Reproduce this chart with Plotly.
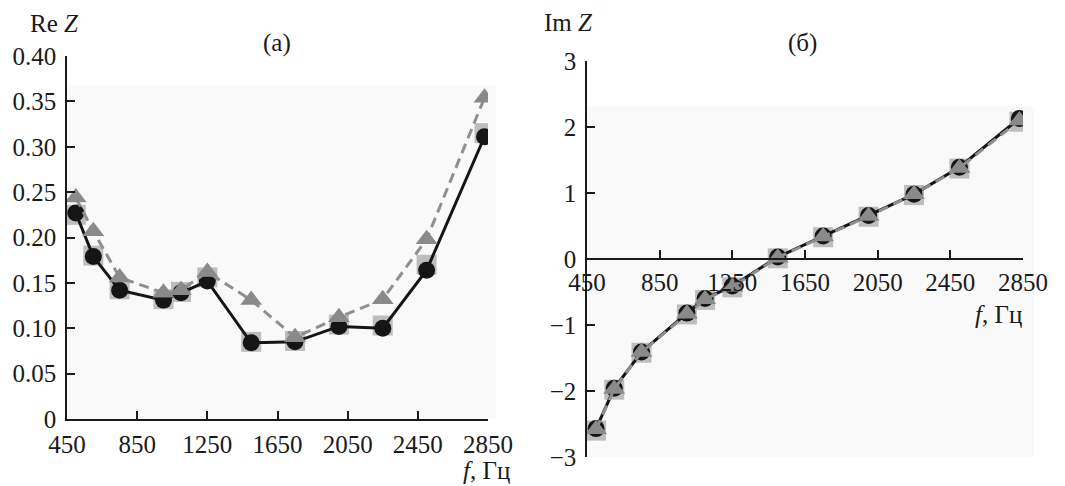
import plotly.graph_objects as go

# ---- data ----
freq = [500, 600, 750, 1000, 1100, 1250, 1500, 1750, 2000, 2250, 2500, 2830]

re_circle = [0.227, 0.179, 0.142, 0.131, 0.139, 0.152, 0.084, 0.085, 0.102, 0.100, 0.164, 0.311]
re_triangle = [0.244, 0.207, 0.156, 0.139, 0.142, 0.162, 0.131, 0.090, 0.112, 0.132, 0.198, 0.354]
re_square = [0.225, 0.180, 0.143, 0.132, 0.140, 0.156, 0.085, 0.086, 0.104, 0.103, 0.170, 0.315]

im_circle = [-2.57, -1.96, -1.41, -0.82, -0.60, -0.41, 0.03, 0.35, 0.66, 0.98, 1.39, 2.13]
im_triangle = [-2.58, -1.97, -1.41, -0.83, -0.61, -0.42, 0.02, 0.34, 0.65, 0.98, 1.38, 2.10]
im_square = [-2.60, -1.98, -1.42, -0.84, -0.62, -0.43, 0.01, 0.33, 0.64, 0.97, 1.37, 2.08]

x_ticks = [450, 850, 1250, 1650, 2050, 2450, 2850]
re_ticks = [0, 0.05, 0.10, 0.15, 0.20, 0.25, 0.30, 0.35, 0.40]
re_ticktext = ["0", "0.05", "0.10", "0.15", "0.20", "0.25", "0.30", "0.35", "0.40"]
im_ticks = [-3, -2, -1, 0, 1, 2, 3]
im_ticktext = ["\u22123", "\u22122", "\u22121", "0", "1", "2", "3"]

OFF = 8  # default page body margin
W, H = 1065 - OFF, 486 - OFF
FONT = "Liberation Serif"
FS = 25

fig = go.Figure()

def add_series(xa, ya, sq, ci, tr):
    fig.add_trace(go.Scatter(x=freq, y=sq, mode="markers", xaxis=xa, yaxis=ya,
                             marker=dict(symbol="square", size=20, color="#bdbdbd"),
                             showlegend=False))
    fig.add_trace(go.Scatter(x=freq, y=ci, mode="lines+markers", xaxis=xa, yaxis=ya,
                             line=dict(color="#151515", width=3),
                             marker=dict(symbol="circle", size=17, color="#151515"),
                             showlegend=False))
    fig.add_trace(go.Scatter(x=freq, y=tr, mode="lines+markers", xaxis=xa, yaxis=ya,
                             line=dict(color="#8f8f8f", width=3, dash="10px,6px"),
                             marker=dict(symbol="triangle-up", size=19, color="#8a8a8a"),
                             showlegend=False))

add_series("x", "y", re_square, re_circle, re_triangle)
add_series("x2", "y2", im_square, im_circle, im_triangle)

# window pixel -> paper helpers
def px(x):
    return (x - OFF) / W

def py(y):
    return 1 - (y - OFF) / H

ax_common = dict(showgrid=False, zeroline=False, showline=True, linecolor="#1a1a1a",
                 linewidth=1.5, ticks="inside", ticklen=8, tickwidth=1.5, tickcolor="#1a1a1a",
                 automargin=False,
                 tickfont=dict(family=FONT, size=FS, color="#1a1a1a"))

l_dom_y = [py(419), py(56)]
r_dom_y = [py(457), py(61)]

fig.update_layout(
    width=W, height=H,
    margin=dict(l=0, r=0, t=0, b=0, autoexpand=False),
    paper_bgcolor="white", plot_bgcolor="rgba(0,0,0,0)",
    xaxis=dict(domain=[px(67), px(488)], range=[450, 2850], tickvals=x_ticks,
               anchor="y", ticklabelstandoff=2, **ax_common),
    yaxis=dict(domain=l_dom_y, range=[0, 0.40], tickvals=re_ticks, ticktext=re_ticktext,
               anchor="x", ticklabelstandoff=4, **ax_common),
    xaxis2=dict(domain=[px(587), px(1023)], range=[450, 2850], tickvals=x_ticks,
                anchor="free", position=(r_dom_y[0] + r_dom_y[1]) / 2,
                ticklabelstandoff=1, **ax_common),
    yaxis2=dict(domain=r_dom_y, range=[-3, 3], tickvals=im_ticks, ticktext=im_ticktext,
                anchor="x2", ticklabelstandoff=4, **ax_common),
)

# faint background panels
fig.add_shape(type="rect", xref="x domain", yref="y domain", x0=0, x1=1.018, y0=0, y1=0.92,
              fillcolor="#f9f9f9", line=dict(width=0), layer="below")
fig.add_shape(type="rect", xref="x2 domain", yref="y2 domain", x0=0, x1=1.025, y0=0, y1=0.885,
              fillcolor="#f9f9f9", line=dict(width=0), layer="below")

ann_font = dict(family=FONT, size=FS, color="#1a1a1a")
annotations = [
    dict(text="Re <i>Z</i>", x=px(54), y=py(24)),
    dict(text="(а)", x=px(277), y=py(43)),
    dict(text="<i>f</i>, Гц", x=px(486), y=py(470)),
    dict(text="Im <i>Z</i>", x=px(568), y=py(22)),
    dict(text="(б)", x=px(802), y=py(43)),
    dict(text="<i>f</i>, Гц", x=px(998), y=py(314)),
]
for a in annotations:
    fig.add_annotation(text=a["text"], x=a["x"], y=a["y"], xref="paper", yref="paper",
                       showarrow=False, font=ann_font, xanchor="center", yanchor="middle")

fig.write_html("out.html")
